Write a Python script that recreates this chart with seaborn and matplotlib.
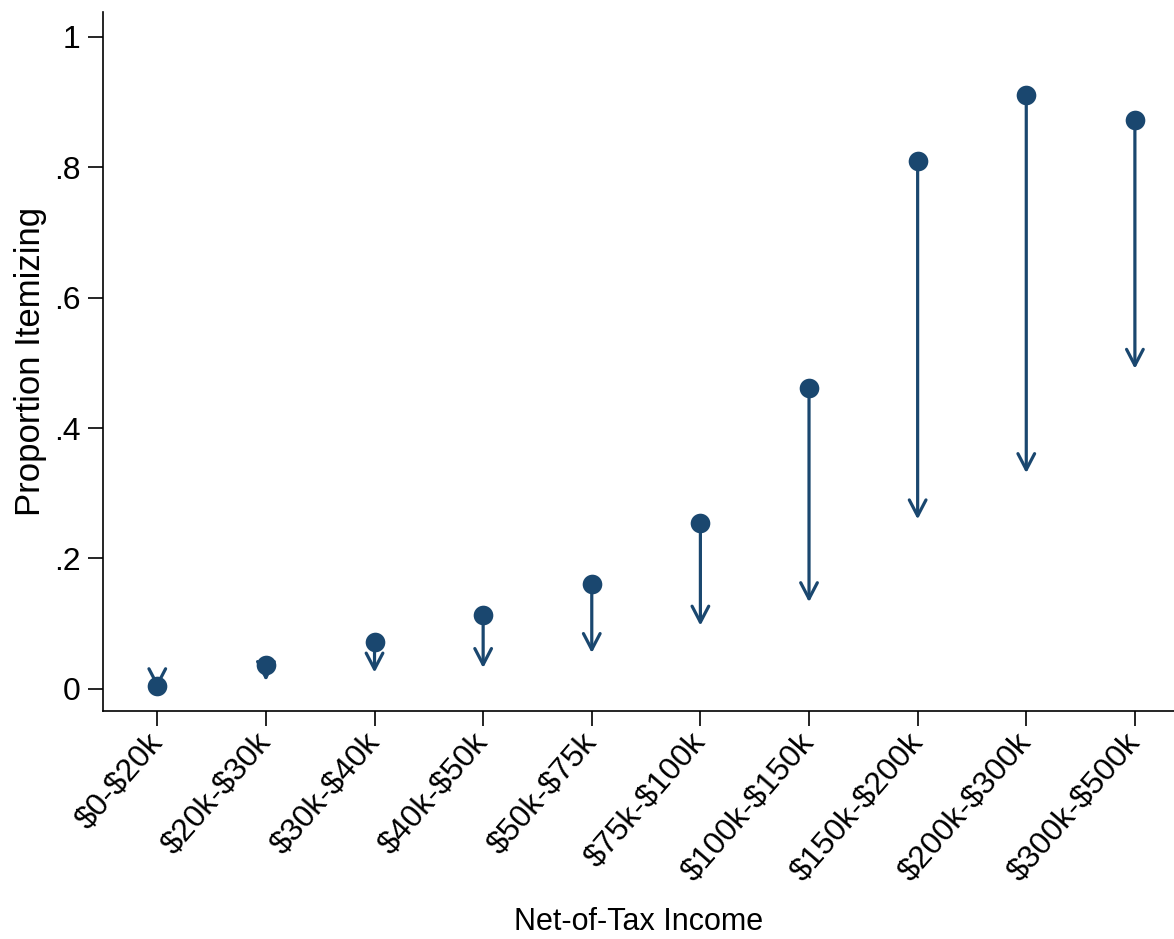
import matplotlib
matplotlib.use("Agg")
import matplotlib.pyplot as plt
import seaborn as sns
import pandas as pd

categories = ["$0-$20k", "$20k-$30k", "$30k-$40k", "$40k-$50k", "$50k-$75k",
              "$75k-$100k", "$100k-$150k", "$150k-$200k", "$200k-$300k", "$300k-$500k"]
start_vals = [0.005, 0.036, 0.072, 0.113, 0.161, 0.254, 0.462, 0.810, 0.911, 0.873]
end_vals = [0.001, 0.012, 0.025, 0.032, 0.055, 0.097, 0.133, 0.260, 0.331, 0.491]
y_ticks = [0, 0.2, 0.4, 0.6, 0.8, 1.0]
y_tick_labels = ["0", ".2", ".4", ".6", ".8", "1"]

color = "#1a476f"

sns.set_theme(style="white")
plt.rcParams["font.family"] = ["Liberation Sans", "DejaVu Sans"]
plt.rcParams["text.usetex"] = False
plt.rcParams["text.parse_math"] = False

fig = plt.figure(figsize=(11.74, 9.39), dpi=100)
ax = fig.add_axes([0.0877, 0.2428, 0.9123, 0.7442])

df = pd.DataFrame({"cat": categories, "start": start_vals, "end": end_vals})

for i, (s, e) in enumerate(zip(start_vals, end_vals)):
    ax.annotate("", xy=(i, e), xytext=(i, s), xycoords="data", textcoords="data",
                arrowprops=dict(arrowstyle="->,head_length=1.15,head_width=0.6",
                                color=color, lw=2.3, shrinkA=0, shrinkB=0,
                                mutation_scale=10),
                zorder=2)

sns.scatterplot(data=df, x="cat", y="start", ax=ax, color=color, s=200,
                edgecolor=color, linewidth=0, zorder=3)

ax.set_xlim(-0.5, 9.36)
ax.set_ylim(-0.034, 1.038)
ax.set_yticks(y_ticks)
ax.set_yticklabels(y_tick_labels, fontsize=23)
ax.set_xticks(range(len(categories)))
ax.set_xticklabels(categories, fontsize=23, rotation=49, ha="right",
                   rotation_mode="anchor", va="center")

ax.set_xlabel("Net-of-Tax Income", fontsize=22, color="black")
ax.set_ylabel("Proportion Itemizing", fontsize=25, color="black")
ax.xaxis.set_label_coords(0.5, -0.302)
ax.xaxis.label.set_va("center")
ax.yaxis.set_label_coords(-0.068, 0.5)
ax.yaxis.label.set_va("center")

for side in ["top", "right"]:
    ax.spines[side].set_visible(False)
for side in ["left", "bottom"]:
    ax.spines[side].set_color("black")
    ax.spines[side].set_linewidth(1.2)

ax.tick_params(axis="both", which="both", direction="out", length=11, width=1.2,
               color="black", labelcolor="black", left=True, bottom=True)
ax.tick_params(axis="y", pad=5)
ax.tick_params(axis="x", pad=8)

fig.savefig("out.png", dpi=100, facecolor="white")
